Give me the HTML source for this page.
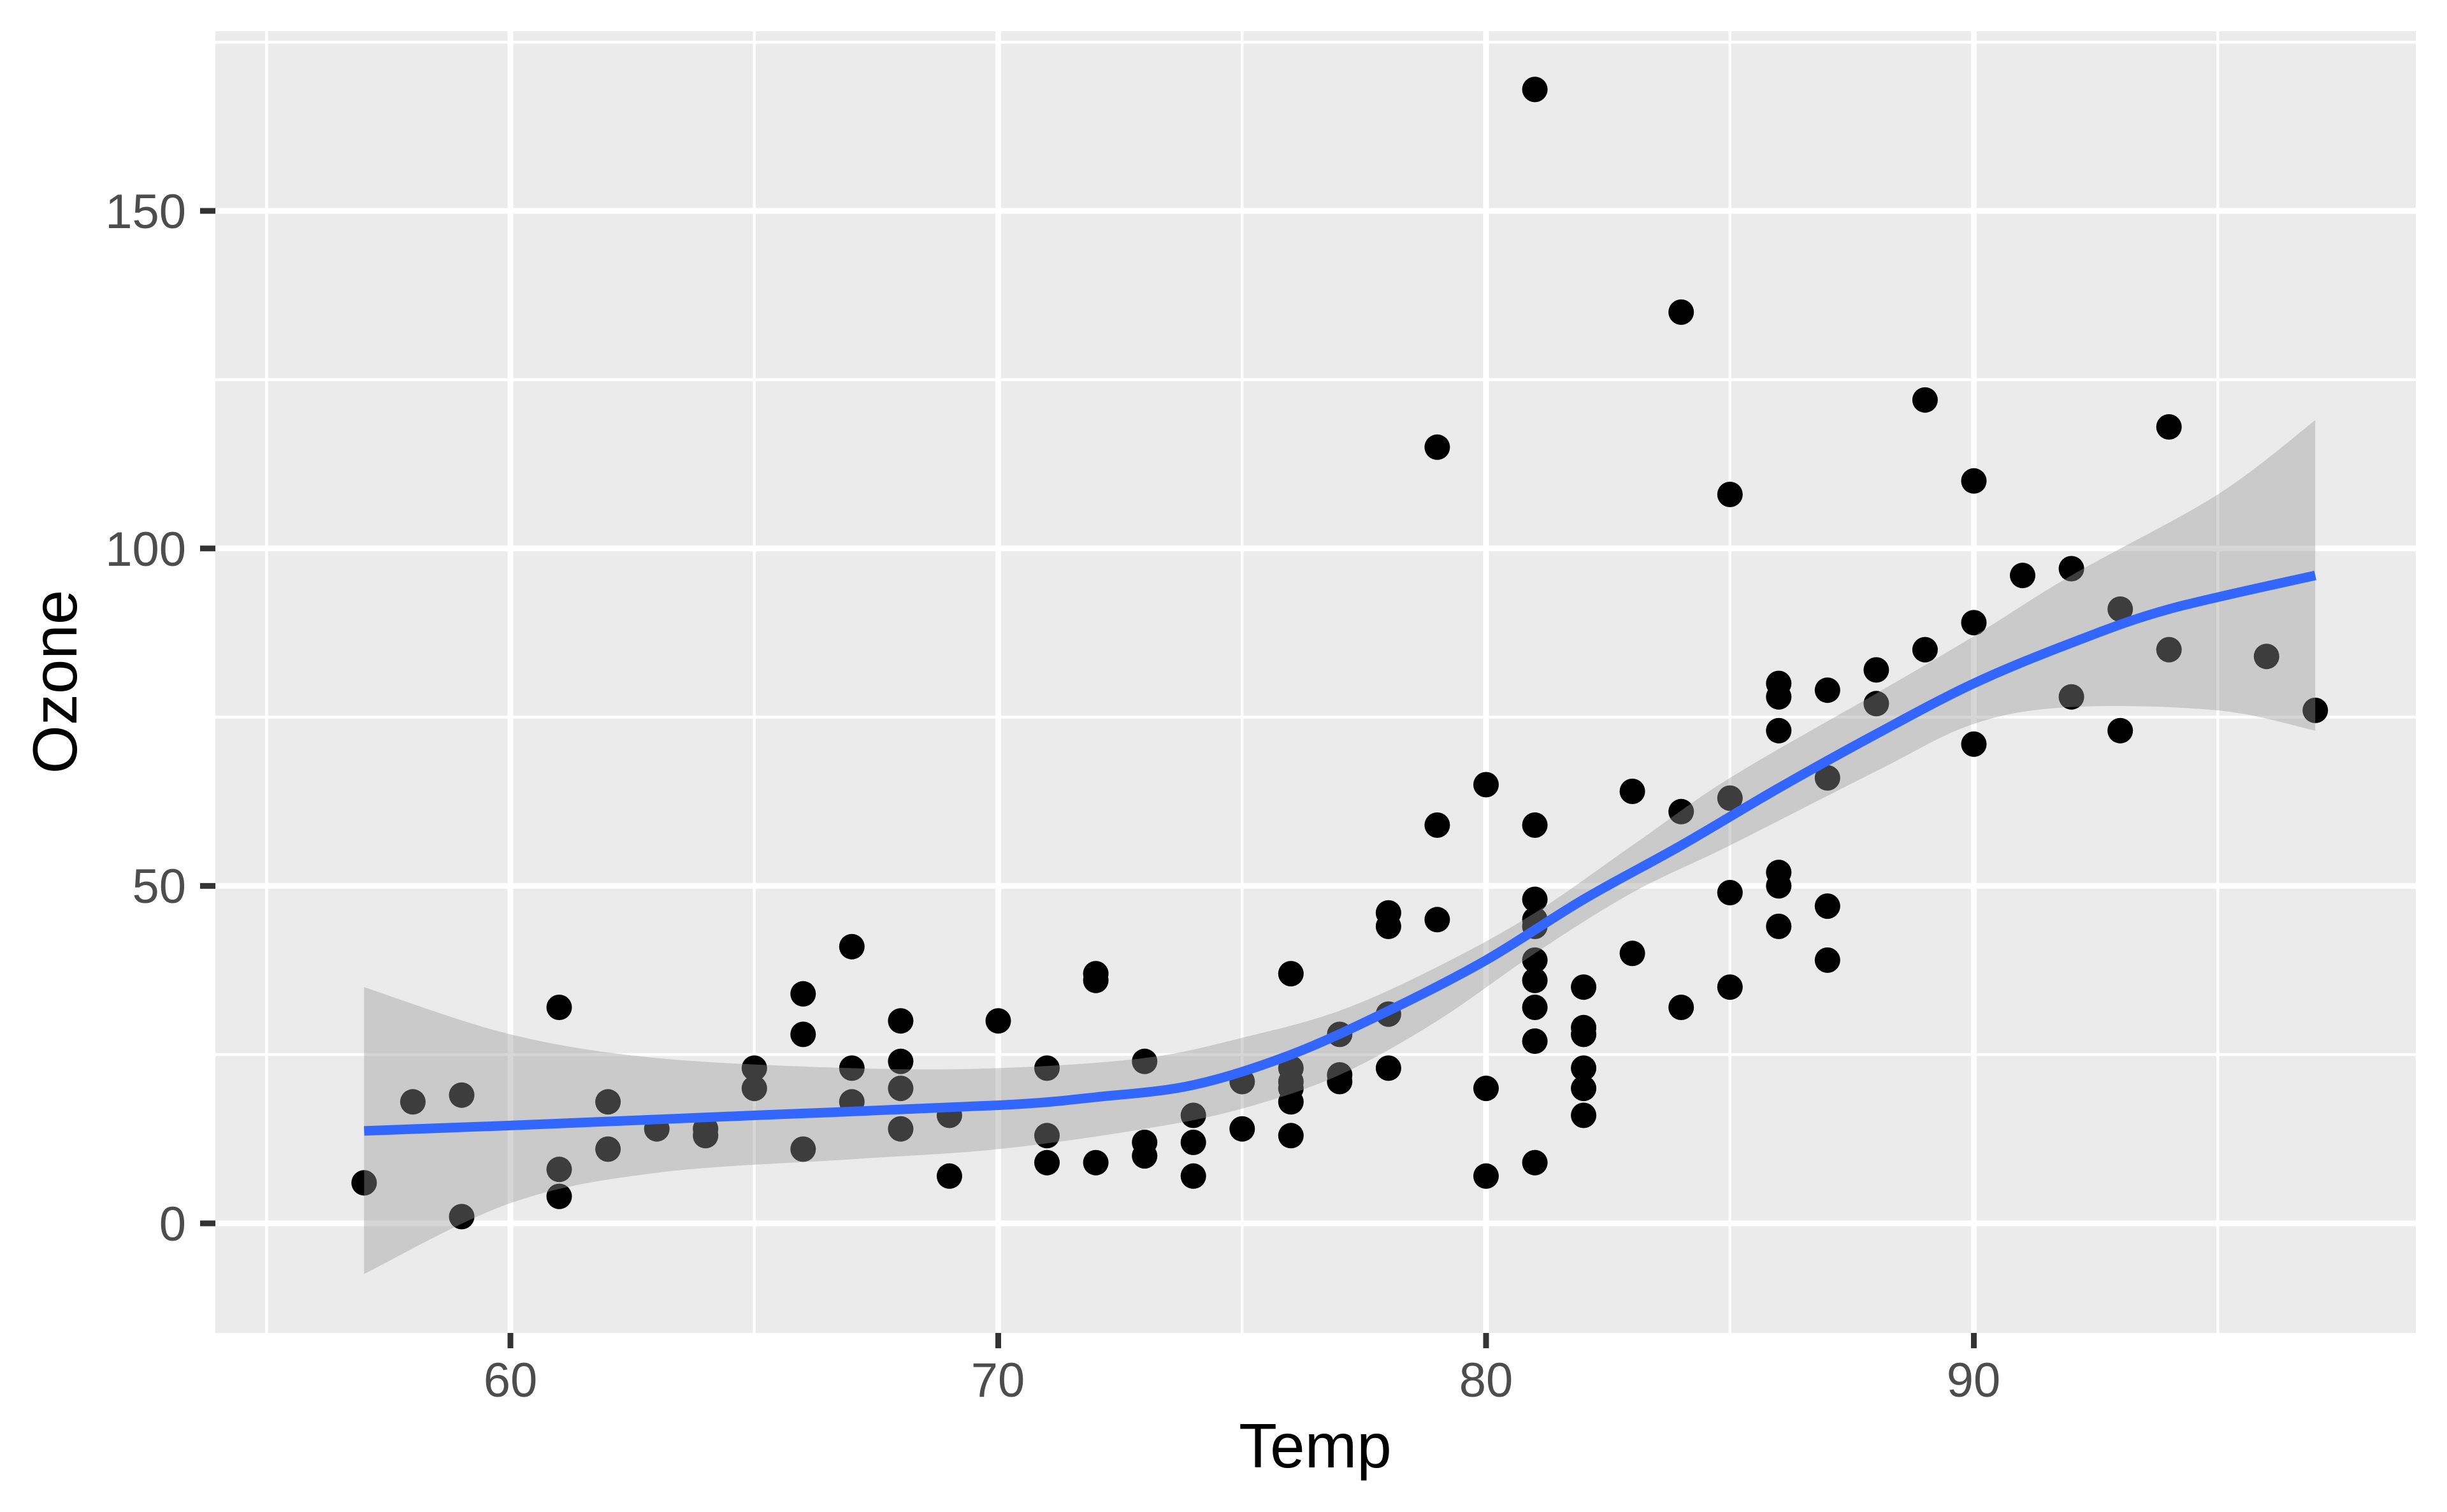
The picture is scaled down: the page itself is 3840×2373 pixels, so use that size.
<!DOCTYPE html>
<html><head><meta charset="utf-8">
<style>
html,body{margin:0;padding:0;background:#fff;}
svg{display:block;}
text{font-family:"Liberation Sans",Arial,sans-serif;}
</style></head>
<body>
<svg id="s" width="3840" height="2373" viewBox="0 0 3840 2373" xmlns="http://www.w3.org/2000/svg">
<rect x="0" y="0" width="3840" height="2373" fill="#fff"/>
<rect x="338" y="49" width="3453" height="2043" fill="#EBEBEB"/>
<g id="grid"></g>
<g id="pts"></g>
<path id="band" fill="#999999" fill-opacity="0.4" d=""/>
<path id="line" fill="none" stroke="#3366FF" stroke-width="15" stroke-linejoin="round" d=""/>
<g id="ticks" stroke="#333333" stroke-width="9"></g>
<g fill="#4D4D4D" font-size="76" text-anchor="end">
<text x="292" y="1947">0</text>
<text x="292" y="1417">50</text>
<text x="292" y="888">100</text>
<text x="292" y="358">150</text>
</g>
<g fill="#4D4D4D" font-size="76" text-anchor="middle">
<text x="801" y="2192">60</text>
<text x="1566" y="2192">70</text>
<text x="2332" y="2192">80</text>
<text x="3097" y="2192">90</text>
</g>
<text x="2064" y="2303" font-size="98" text-anchor="middle" fill="#000">Temp</text>
<text transform="translate(120,1070) rotate(-90)" font-size="98" text-anchor="middle" fill="#000">Ozone</text>
</svg>
<script>
(function(){
var NS="http://www.w3.org/2000/svg";
function X(t){return 801+(t-60)*76.55;}
function Y(v){return 1920-v*10.593;}
var g=document.getElementById('grid');
function ln(par,x1,y1,x2,y2,w,c){var l=document.createElementNS(NS,'line');l.setAttribute('x1',x1);l.setAttribute('y1',y1);l.setAttribute('x2',x2);l.setAttribute('y2',y2);l.setAttribute('stroke',c);l.setAttribute('stroke-width',w);par.appendChild(l);}
[25,75,125,175].forEach(function(v){ln(g,338,Y(v),3791,Y(v),4.5,'#fff');});
[55,65,75,85,95].forEach(function(t){ln(g,X(t),49,X(t),2092,4.5,'#fff');});
[0,50,100,150].forEach(function(v){ln(g,338,Y(v),3791,Y(v),9,'#fff');});
[60,70,80,90].forEach(function(t){ln(g,X(t),49,X(t),2092,9,'#fff');});
var tk=document.getElementById('ticks');
[0,50,100,150].forEach(function(v){ln(tk,314,Y(v),338,Y(v),9,'#333');});
[60,70,80,90].forEach(function(t){ln(tk,X(t),2092,X(t),2116,9,'#333');});
var d=[[57,6],[58,18],[59,19],[59,1],[61,32],[61,8],[61,4],[62,18],[62,11],[63,14],[64,14],[64,13],[65,23],[65,20],[66,34],[66,28],[66,11],[67,41],[67,23],[67,18],[68,30],[68,24],[68,20],[68,14],[69,16],[69,7],[70,30],[71,23],[71,13],[71,9],[72,37],[72,36],[72,9],[73,24],[73,12],[73,10],[74,16],[74,12],[74,7],[75,21],[75,14],[76,37],[76,23],[76,21],[76,20],[76,18],[76,13],[77,28],[77,22],[77,21],[78,46],[78,44],[78,31],[78,23],[79,115],[79,59],[79,45],[80,65],[80,20],[80,7],[81,168],[81,59],[81,48],[81,45],[81,44],[81,39],[81,36],[81,32],[81,27],[81,9],[82,35],[82,29],[82,28],[82,23],[82,20],[82,16],[83,64],[83,40],[84,135],[84,61],[84,32],[85,108],[85,63],[85,49],[85,35],[86,80],[86,78],[86,73],[86,52],[86,50],[86,44],[87,79],[87,66],[87,47],[87,39],[88,82],[88,77],[89,122],[89,85],[90,110],[90,89],[90,71],[91,96],[92,97],[92,78],[93,91],[93,73],[94,118],[94,85],[96,84],[97,76]];
var p=document.getElementById('pts');
d.forEach(function(q){var c=document.createElementNS(NS,'circle');c.setAttribute('cx',X(q[0]).toFixed(1));c.setAttribute('cy',Y(q[1]).toFixed(1));c.setAttribute('r',20);c.setAttribute('fill','#000');p.appendChild(c);});
function cr(pts){var s='M'+pts[0][0].toFixed(1)+','+pts[0][1].toFixed(1);for(var i=0;i<pts.length-1;i++){var p0=pts[i-1]||pts[i],p1=pts[i],p2=pts[i+1],p3=pts[i+2]||p2;s+=' C'+(p1[0]+(p2[0]-p0[0])/6).toFixed(1)+','+(p1[1]+(p2[1]-p0[1])/6).toFixed(1)+' '+(p2[0]-(p3[0]-p1[0])/6).toFixed(1)+','+(p2[1]-(p3[1]-p1[1])/6).toFixed(1)+' '+p2[0].toFixed(1)+','+p2[1].toFixed(1);}return s;}
function m(a){return a.map(function(q){return [X(q[0]),Y(q[1])];});}
var fit=[[57,13.7],[60,14.5],[65,16],[70,17.5],[72,18.7],[74,20.5],[76,25],[78,31.5],[80,39],[82,48],[84,56],[86,64.5],[88,72.5],[90,80],[92,86],[94,91],[97,96]];
var up=[[57,35],[60,28],[63,24.5],[67,23],[70,23],[73,24.5],[75,27.5],[77,31.5],[79,38],[81,46],[83,56],[85,66],[88,78.5],[90,87],[92,96],[95,108],[97,119]];
var lo=[[57,-7.5],[60,3],[63,7.5],[67,9.5],[70,11],[73,14],[75,17],[77,22],[79,30],[81,40],[83,49],[85,56],[88,67],[90,74],[92,76.5],[95,76],[97,73]];
document.getElementById('line').setAttribute('d',cr(m(fit)));
var U=cr(m(up));var L=m(lo).reverse();var Ls=cr(L).replace(/^M/,' L');
document.getElementById('band').setAttribute('d',U+Ls+' Z');
})();
</script>
</body></html>
